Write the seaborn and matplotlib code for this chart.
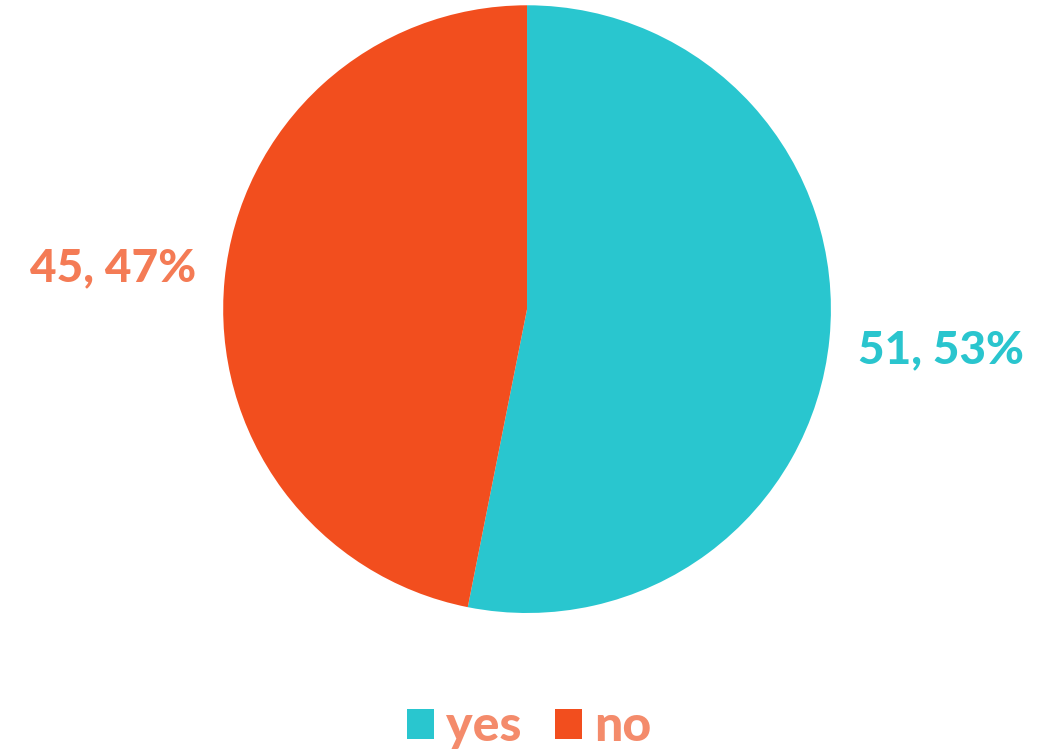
import matplotlib
matplotlib.use("Agg")
import matplotlib.pyplot as plt
import seaborn as sns
from matplotlib.patches import Patch

categories = ["yes", "no"]
values = [51, 45]
colors = ["#29C6CF", "#F24E1E"]
label_colors = ["#2AC5CE", "#F47B55"]

sns.set_theme(style="white")
plt.rcParams['font.family'] = ['Lato', 'DejaVu Sans']

fig = plt.figure(figsize=(10.58, 7.54), dpi=100)
ax = fig.add_axes([0.2108, 0.187, 0.5747, 0.806])
total = sum(values)
labels = [f"{v}, {round(v / total * 100)}%" for v in values]
wedges, texts = ax.pie(values, colors=colors, startangle=90, counterclock=False,
                       labels=labels, labeldistance=1.37,
                       textprops=dict(fontsize=33, fontweight="black"),
                       wedgeprops=dict(linewidth=0))
for t, c in zip(texts, label_colors):
    t.set_color(c)
    t.set_ha("center")
    t.set_va("center")
ax.set_xlim(-1, 1)
ax.set_ylim(-1, 1)
ax.set_aspect("equal")
ax.axis("off")

handles = [Patch(facecolor=c, edgecolor="none") for c in colors]
leg = fig.legend(handles, categories, loc="center", bbox_to_anchor=(0.5, 0.036),
                 ncol=2, frameon=False, handlelength=0.54, handleheight=0.54,
                 handletextpad=0.25, columnspacing=0.66, prop=dict(size=36, weight="black"))
for t in leg.get_texts():
    t.set_color("#F48B6B")

fig.savefig("out.png", dpi=100)
